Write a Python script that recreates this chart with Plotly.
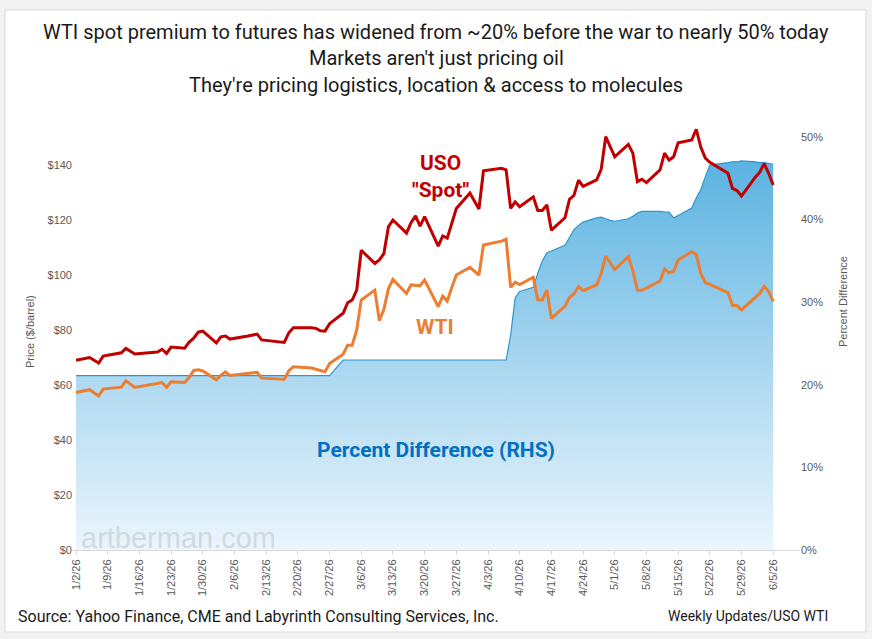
import plotly.graph_objects as go

# ---------------- data ----------------
dates = ["2026-01-02","2026-01-05","2026-01-07","2026-01-08","2026-01-12","2026-01-13","2026-01-15",
         "2026-01-20","2026-01-21","2026-01-22","2026-01-23","2026-01-26","2026-01-27","2026-01-28",
         "2026-01-29","2026-01-30","2026-02-02","2026-02-03","2026-02-04","2026-02-05","2026-02-09",
         "2026-02-11","2026-02-12","2026-02-17","2026-02-18","2026-02-19","2026-02-23","2026-02-24",
         "2026-02-25","2026-02-26","2026-02-27","2026-03-02","2026-03-03","2026-03-04","2026-03-05",
         "2026-03-06","2026-03-09","2026-03-10","2026-03-11","2026-03-12","2026-03-13","2026-03-16",
         "2026-03-17","2026-03-18","2026-03-19","2026-03-20","2026-03-23","2026-03-24","2026-03-25",
         "2026-03-26","2026-03-27","2026-03-30","2026-04-01","2026-04-02","2026-04-06","2026-04-07",
         "2026-04-08","2026-04-09","2026-04-10","2026-04-13","2026-04-14","2026-04-15","2026-04-16",
         "2026-04-17","2026-04-20","2026-04-21","2026-04-22","2026-04-23","2026-04-24","2026-04-27",
         "2026-04-28","2026-04-29","2026-04-30","2026-05-01","2026-05-04","2026-05-05","2026-05-06",
         "2026-05-07","2026-05-08","2026-05-11","2026-05-12","2026-05-13","2026-05-14","2026-05-15",
         "2026-05-18","2026-05-19","2026-05-20","2026-05-21","2026-05-22","2026-05-26","2026-05-27",
         "2026-05-28","2026-05-29","2026-06-01","2026-06-02","2026-06-03","2026-06-04","2026-06-05"]

uso_spot = [69.0,70.0,68.0,70.5,71.7,73.3,71.3,72.0,73.0,71.5,73.8,73.4,75.6,77.0,
            79.2,79.6,75.3,77.5,77.8,76.7,77.8,78.5,76.4,75.5,79.0,80.8,80.8,80.6,
            79.7,79.6,82.3,86.1,89.9,90.9,94.5,109.0,104.2,105.5,107.8,117.5,120.0,115.2,
            119.0,121.5,117.8,121.2,110.5,114.2,113.4,119.0,124.2,129.8,124.0,137.9,138.8,138.2,
            124.2,126.6,124.8,128.4,123.5,123.5,125.5,116.3,120.8,127.5,129.0,134.5,132.2,134.6,
            138.4,150.3,146.5,143.0,147.5,144.3,133.9,134.8,133.6,138.2,144.3,141.8,143.0,148.1,
            149.1,153.0,146.5,142.5,141.0,137.0,131.5,130.7,128.7,135.5,137.3,140.5,137.0,132.7]

wti = [57.3,58.3,56.0,58.5,59.2,61.5,59.1,60.5,60.9,59.2,61.2,60.9,62.8,65.3,
       65.5,65.1,61.9,63.5,64.8,63.5,64.2,64.6,62.5,62.1,65.2,66.6,66.2,65.8,
       65.2,64.8,67.8,71.2,74.5,74.5,80.0,90.9,94.5,83.4,87.5,95.0,98.4,93.3,
       96.4,96.3,96.1,98.2,88.5,92.3,90.5,95.5,100.0,102.8,100.0,110.9,112.3,113.0,
       95.5,97.4,96.5,99.2,90.9,91.0,94.5,84.2,88.7,91.8,93.2,95.8,94.3,96.4,
       100.5,106.9,104.5,102.0,106.7,101.5,94.5,94.5,95.2,97.8,102.2,100.8,101.3,105.5,
       108.5,107.5,100.5,97.2,96.6,93.6,89.0,88.8,87.3,91.6,93.3,95.9,94.0,90.3]

pct_diff = [21.1,21.1,21.1,21.1,21.1,21.1,21.1,21.1,21.1,21.1,21.1,21.1,21.1,21.1,
            21.1,21.1,21.1,21.1,21.1,21.1,21.1,21.1,21.1,21.1,21.1,21.1,21.1,21.1,
            21.1,21.1,21.1,23.0,23.0,23.0,23.0,23.0,23.0,23.0,23.0,23.0,23.0,23.0,
            23.0,23.0,23.0,23.0,23.0,23.0,23.0,23.0,23.0,23.0,23.0,23.0,23.0,23.0,
            26.0,30.5,31.3,31.8,33.5,35.0,36.0,36.2,36.9,37.9,38.8,39.3,39.7,40.2,
            40.3,40.1,39.9,39.8,40.1,40.4,40.8,41.0,41.0,41.0,40.9,40.9,40.2,40.5,
            41.4,42.6,43.6,45.2,46.6,46.9,47.0,47.0,47.1,47.0,46.9,46.9,46.8,46.7]

price_ticks = [0, 20, 40, 60, 80, 100, 120, 140]
price_ticktext = ["$0", "$20", "$40", "$60", "$80", "$100", "$120", "$140"]
pct_ticks = [0, 10, 20, 30, 40, 50]
pct_ticktext = ["0%", "10%", "20%", "30%", "40%", "50%"]

title_lines = ["WTI spot premium to futures has widened from ~20% before the war to nearly 50% today",
               "Markets aren't just pricing oil",
               "They're pricing logistics, location & access to molecules"]

# ---------------- layout geometry ----------------
W, H = 872, 639
L, R, T, B = 73, 72, 110, 89
PW, PH = W - L - R, H - T - B


def px(x):
    return (x - L) / PW


def py(y):
    return (H - B - y) / PH


FONT = "Roboto, Liberation Sans, Arial, sans-serif"
SANS = "Liberation Sans, Arial, sans-serif"

fig = go.Figure()

# percent difference area (primary y, drawn first, right side)
fig.add_trace(go.Scatter(
    x=dates, y=[v / 100 for v in pct_diff], yaxis="y", mode="lines",
    line=dict(color="#2E95D0", width=1.2),
    fill="tozeroy",
    fillgradient=dict(type="vertical", start=0, stop=0.47,
                      colorscale=[[0, "#EBF5FC"], [0.5, "#A6D5EF"], [1, "#5BB3E1"]]),
    showlegend=False, hoverinfo="skip"))

fig.add_trace(go.Scatter(x=dates, y=wti, yaxis="y2", mode="lines",
                         line=dict(color="#ED7D31", width=3), showlegend=False))
fig.add_trace(go.Scatter(x=dates, y=uso_spot, yaxis="y2", mode="lines",
                         line=dict(color="#C00000", width=3), showlegend=False))

tickfont = dict(family=SANS, size=11, color="#595959")

fig.update_layout(
    width=W, height=H,
    margin=dict(l=L, r=R, t=T, b=B),
    paper_bgcolor="#F2F2F2",
    plot_bgcolor="rgba(0,0,0,0)",
    xaxis=dict(type="date", range=["2026-01-01 08:00", "2026-06-10 22:00"],
               tick0="2026-01-02", dtick=7 * 24 * 3600 * 1000, tickformat="%-m/%-d/%y",
               tickangle=-90, tickfont=tickfont, showgrid=False, zeroline=False,
               showline=True, linecolor="#D9D9D9", linewidth=1,
               ticks="outside", ticklen=4, tickcolor="#D9D9D9"),
    yaxis=dict(side="right", range=[0, PH / 826.0], tickmode="array",
               tickvals=[v / 100 for v in pct_ticks], ticktext=pct_ticktext,
               tickfont=tickfont, showgrid=False, zeroline=False,
               showline=False, ticks=""),
    yaxis2=dict(side="left", overlaying="y", range=[0, PH / 2.75], tickmode="array",
                tickvals=price_ticks, ticktext=price_ticktext,
                tickfont=tickfont, showgrid=False, zeroline=False,
                showline=False, ticks=""),
)

# chart frame
fig.add_shape(type="rect", xref="paper", yref="paper",
              x0=px(5), x1=px(866), y0=py(632), y1=py(10),
              fillcolor="white", line=dict(color="#D9D9D9", width=1), layer="below")

ann = []
for t, yy in zip(title_lines, [32, 58, 85]):
    ann.append(dict(text=t, x=px(436), y=py(yy), font=dict(family=FONT, size=20, color="#1a1a1a")))
ann += [
    dict(text="<b>USO</b>", x=px(440), y=py(163), font=dict(family=FONT, size=21, color="#C00000")),
    dict(text="<b>\"Spot\"</b>", x=px(440), y=py(190), font=dict(family=FONT, size=21, color="#C00000")),
    dict(text="<b>WTI</b>", x=px(435), y=py(327), font=dict(family=FONT, size=21, color="#ED7D31")),
    dict(text="<b>Percent Difference (RHS)</b>", x=px(436), y=py(450),
         font=dict(family=FONT, size=21, color="#0070C0")),
    dict(text="artberman.com", x=px(178), y=py(538),
         font=dict(family=SANS, size=29, color="rgba(205,214,222,0.9)")),
    dict(text="Price ($/barrel)", x=px(30), y=py(332), textangle=-90,
         font=dict(family=SANS, size=11, color="#595959")),
    dict(text="Percent Difference", x=px(843), y=py(302), textangle=-90,
         font=dict(family=SANS, size=11, color="#595959")),
    dict(text="Source: Yahoo Finance, CME and Labyrinth Consulting Services, Inc.", x=px(16), y=py(616),
         xanchor="left", font=dict(family=FONT, size=16, color="#1a1a1a")),
    dict(text="Weekly Updates/USO WTI", x=px(830), y=py(616), xanchor="right",
         font=dict(family=FONT, size=14, color="#1a1a1a")),
]
for a in ann:
    a.setdefault("xanchor", "center")
    a.update(xref="paper", yref="paper", yanchor="middle", showarrow=False)
fig.update_layout(annotations=ann)

fig.write_html("out.html")
